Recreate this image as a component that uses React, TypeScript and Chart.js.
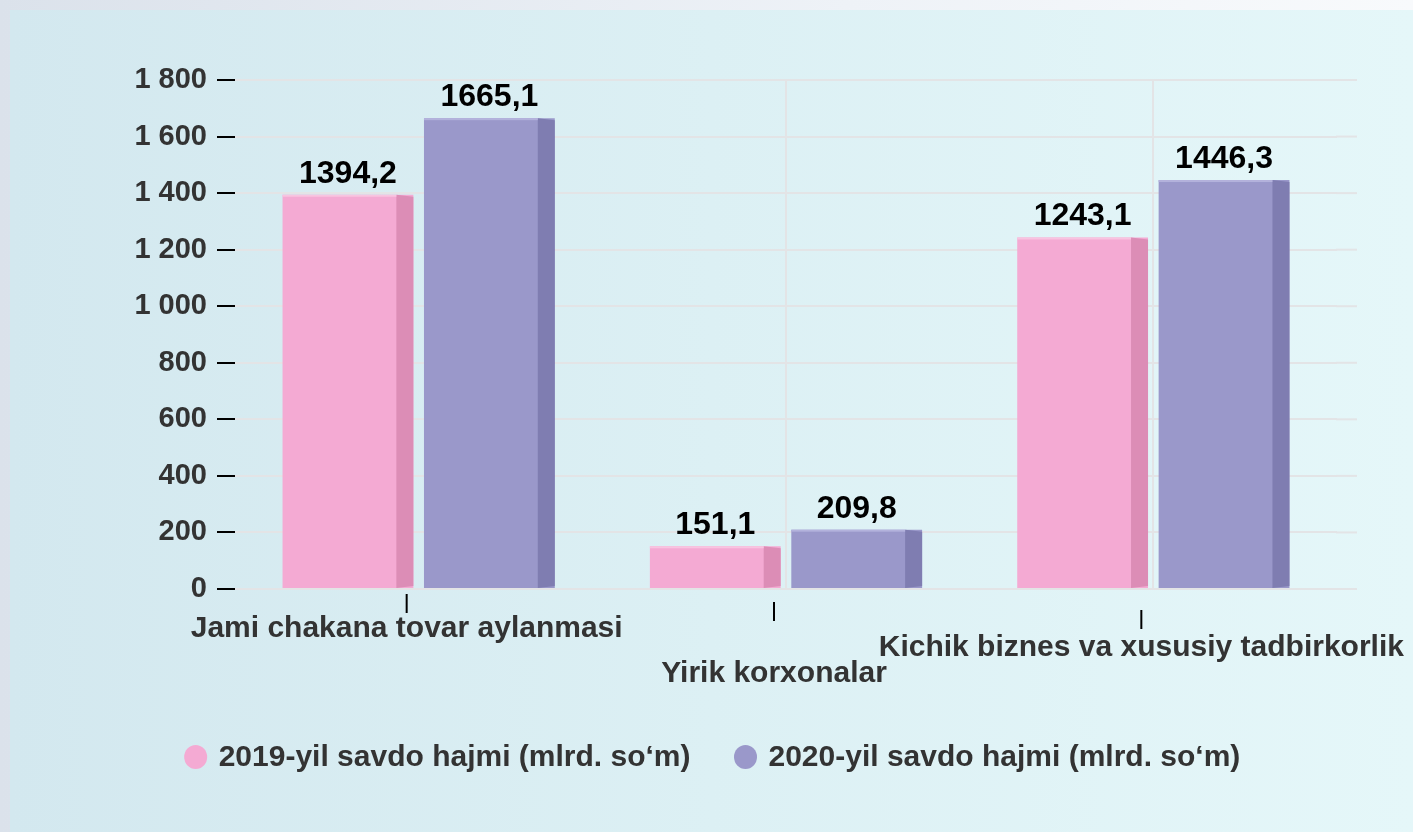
import React, { useEffect, useRef } from "react";
import { Chart, registerables } from "chart.js";

Chart.register(...registerables);

// ---------- data ----------
const categories = [
  "Jami chakana tovar aylanmasi",
  "Yirik korxonalar",
  "Kichik biznes va xususiy tadbirkorlik",
];
const values2019 = [1394.2, 151.1, 1243.1];
const values2020 = [1665.1, 209.8, 1446.3];
const seriesNames = [
  "2019-yil savdo hajmi (mlrd. so\u2018m)",
  "2020-yil savdo hajmi (mlrd. so\u2018m)",
];
const yMin = 0;
const yMax = 1800;
const yStep = 200;

// ---------- styles ----------
const FONT = '"Liberation Sans", Arial, Helvetica, sans-serif';
const FRONT = ["#f4aad3", "#9a98ca"];
const SIDE = ["#dc8db6", "#7f7db1"];
const TOPLINE = ["#f8c4e0", "#b3b2dc"];
const GRID = "#e3e4e6";
const TEXT = "#333333";
const SIDE_W = 17;
const TICK_SHIFT = -12;
const TICK_TOP = [5, 13, 21];
const TICK_LEN = 19;
const LABEL_BASE = [48, 93, 67];
const GRID_EXT = 20;
const LEGEND_CENTER_X = 712;
const LEGEND_Y = 757;

const fmtValue = (v: number) => v.toFixed(1).replace(".", ",");
const fmtTick = (v: number) =>
  String(v).replace(/\B(?=(\d{3})+(?!\d))/g, " ");

const decorPlugin = {
  id: "decor",
  beforeDatasetsDraw(chart: any) {
    const { ctx, chartArea, scales } = chart;
    const y = scales.y;
    ctx.save();
    ctx.strokeStyle = GRID;
    ctx.lineWidth = 2;
    y.ticks.forEach((t: any) => {
      const py = y.getPixelForValue(t.value);
      ctx.beginPath();
      ctx.moveTo(chartArea.right - 1, py);
      ctx.lineTo(chartArea.right + GRID_EXT, py);
      ctx.stroke();
    });
    ctx.restore();
  },
  afterDatasetsDraw(chart: any) {
    const { ctx } = chart;
    ctx.save();
    chart.data.datasets.forEach((ds: any, di: number) => {
      const meta = chart.getDatasetMeta(di);
      meta.data.forEach((bar: any, i: number) => {
        const { x, y, base, width } = bar.getProps(
          ["x", "y", "base", "width"],
          true
        );
        const l = x - width / 2;
        const r = x + width / 2;
        // side face
        ctx.fillStyle = SIDE[di];
        ctx.beginPath();
        ctx.moveTo(r - SIDE_W, y);
        ctx.lineTo(r, y + 2);
        ctx.lineTo(r, base - 2);
        ctx.lineTo(r - SIDE_W, base);
        ctx.closePath();
        ctx.fill();
        // top highlight
        ctx.fillStyle = TOPLINE[di];
        ctx.fillRect(l, y, width - SIDE_W, 2);
        // value label
        ctx.fillStyle = "#000";
        ctx.font = `bold 32px ${FONT}`;
        ctx.textAlign = "center";
        ctx.textBaseline = "alphabetic";
        ctx.fillText(fmtValue(ds.data[i]), x, y - 12);
      });
    });
    ctx.restore();
  },
  afterDraw(chart: any) {
    const { ctx, chartArea, scales } = chart;
    const xs = scales.x;
    ctx.save();
    // category ticks and labels
    chart.data.labels.forEach((lab: string, i: number) => {
      const px = xs.getPixelForValue(i) + TICK_SHIFT;
      ctx.strokeStyle = "#000";
      ctx.lineWidth = 2;
      ctx.beginPath();
      ctx.moveTo(px, chartArea.bottom + TICK_TOP[i]);
      ctx.lineTo(px, chartArea.bottom + TICK_TOP[i] + TICK_LEN);
      ctx.stroke();
      ctx.fillStyle = TEXT;
      ctx.font = `bold 30px ${FONT}`;
      ctx.textAlign = "center";
      ctx.textBaseline = "alphabetic";
      ctx.fillText(lab, px, chartArea.bottom + LABEL_BASE[i]);
    });
    // legend
    ctx.font = `bold 30px ${FONT}`;
    const r = 12;
    const gapText = 11;
    const gapItems = 43;
    const widths = chart.data.datasets.map(
      (d: any) => ctx.measureText(d.label).width
    );
    const total =
      widths.reduce((a: number, w: number) => a + w + 2 * r + gapText, 0) +
      gapItems * (widths.length - 1);
    let cx = LEGEND_CENTER_X - total / 2;
    chart.data.datasets.forEach((d: any, di: number) => {
      ctx.fillStyle = FRONT[di];
      ctx.beginPath();
      ctx.ellipse(cx + r, LEGEND_Y, r - 0.5, r, 0, 0, Math.PI * 2);
      ctx.fill();
      ctx.fillStyle = TEXT;
      ctx.textAlign = "left";
      ctx.textBaseline = "middle";
      ctx.fillText(d.label, cx + 2 * r + gapText, LEGEND_Y + 1);
      cx += 2 * r + gapText + widths[di] + gapItems;
    });
    ctx.restore();
  },
};

export default function App() {
  const canvasRef = useRef<HTMLCanvasElement | null>(null);

  useEffect(() => {
    if (!canvasRef.current) return;
    const chart = new Chart(canvasRef.current, {
      type: "bar",
      data: {
        labels: categories,
        datasets: [
          {
            label: seriesNames[0],
            data: values2019,
            backgroundColor: FRONT[0],
            borderWidth: 0,
          },
          {
            label: seriesNames[1],
            data: values2020,
            backgroundColor: FRONT[1],
            borderWidth: 0,
          },
        ],
      },
      options: {
        animation: false,
        responsive: true,
        maintainAspectRatio: false,
        datasets: {
          bar: { categoryPercentage: 0.77, barPercentage: 0.925 },
        },
        layout: { padding: { left: 0, top: 80, right: 76, bottom: 243 } },
        plugins: {
          legend: { display: false },
          tooltip: { enabled: false },
          title: { display: false },
        },
        scales: {
          x: {
            grid: {
              offset: false,
              color: (c: any) => (c.index === 0 ? "rgba(0,0,0,0)" : GRID),
              lineWidth: 2,
              drawTicks: false,
            },
            border: { display: false },
            ticks: { display: false },
            afterFit: (s: any) => {
              s.height = 0;
            },
          },
          y: {
            min: yMin,
            max: yMax,
            ticks: {
              stepSize: yStep,
              padding: 10,
              color: TEXT,
              font: { family: FONT, size: 29, weight: "bold" },
              callback: (v: any) => fmtTick(Number(v)),
            },
            grid: {
              color: GRID,
              lineWidth: 2,
              tickColor: "#000",
              tickLength: 18,
              tickWidth: 2,
            },
            border: { display: false },
            afterFit: (s: any) => {
              s.width = 235;
            },
          },
        },
      },
      plugins: [decorPlugin],
    });
    return () => chart.destroy();
  }, []);

  return (
    <div
      style={{
        position: "fixed",
        left: 0,
        top: 0,
        width: 1413,
        height: 832,
        background: "linear-gradient(90deg, #dbe2eb 0%, #eef2f7 60%, #f8fafc 100%)",
        overflow: "hidden",
      }}
    >
      <div
        style={{
          position: "absolute",
          left: 10,
          top: 10,
          right: 0,
          bottom: 0,
          background: "linear-gradient(90deg, #d3e8ef 0%, #dcf0f4 50%, #e5f7f9 100%)",
        }}
      />
      <div style={{ position: "absolute", left: 0, top: 0, width: 1413, height: 832 }}>
        <canvas ref={canvasRef} />
      </div>
    </div>
  );
}
